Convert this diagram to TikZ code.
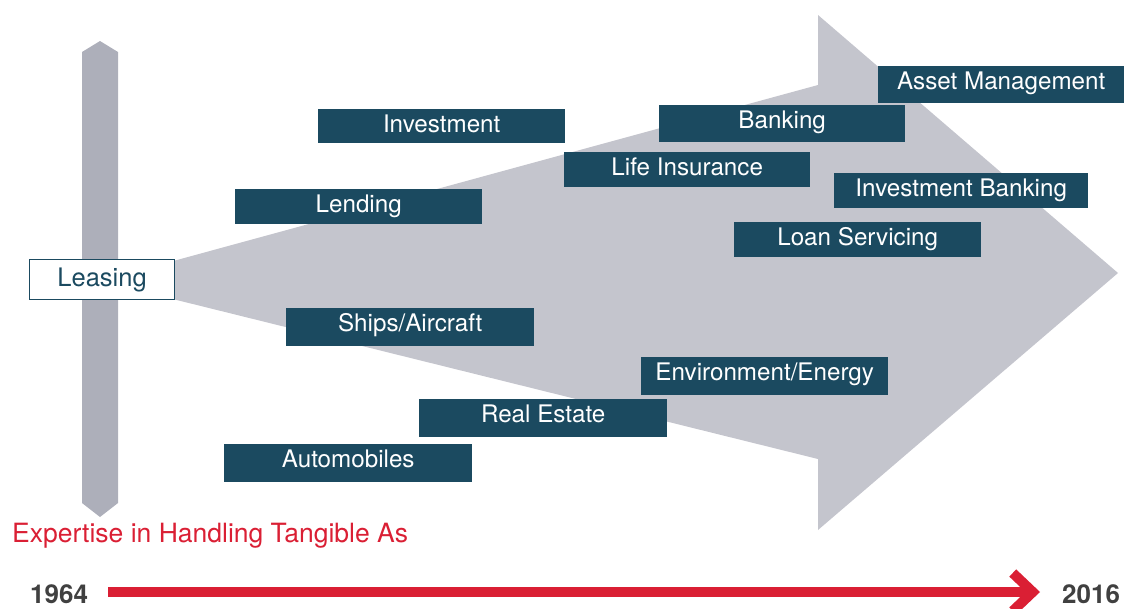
\documentclass[tikz,border=0pt]{standalone}
\usepackage{fontspec}
\setmainfont{TeX Gyre Heros}
\usetikzlibrary{arrows.meta}
\definecolor{teal}{HTML}{1B4A60}
\definecolor{bigarrow}{HTML}{C4C5CD}
\definecolor{bar}{HTML}{ADAFBA}
\definecolor{tlred}{HTML}{DA1F34}
\definecolor{yeargray}{HTML}{404040}
\tikzset{
  lbl/.style={fill=teal, text=white, inner sep=0pt, anchor=north west,
    minimum width=247pt, text height=23pt, text depth=13pt,
    font=\fontsize{24.2}{28}\selectfont},
  leasebox/.style={fill=white, draw=teal, line width=1.2pt, text=teal, inner sep=0pt,
    anchor=north west, minimum width=145pt, text height=27pt, text depth=13pt,
    font=\fontsize{25.5}{30}\selectfont},
  year/.style={text=yeargray, inner sep=0pt, anchor=base west,
    font=\fontsize{26}{30}\selectfont\bfseries},
  tline/.style={draw=tlred, line width=10pt,
    -{Straight Barb[length=20pt,width=38pt]}}
}
\begin{document}
\begin{tikzpicture}[x=1pt,y=-1pt]
\useasboundingbox (0,0) rectangle (1124,608);
% big arrow
\fill[bigarrow] (100,281) -- (818,85) -- (818,15) -- (1118,273) -- (818,530) -- (818,459) -- cycle;
% vertical bar
\fill[bar] (82,52) -- (100,41) -- (118,52) -- (118,503) -- (100,517) -- (82,503) -- cycle;
% labels
\node[leasebox] (leasing) at (29,259) {Leasing};
\node[lbl, text depth=11pt] (investment) at (318,109) {Investment};
\node[lbl, text depth=14pt, minimum width=246pt] (banking) at (659,105) {Banking};
\node[lbl, text depth=12pt, minimum width=246pt] (life) at (564,152) {Life Insurance};
\node[lbl, text depth=14pt, minimum width=246pt] (asset) at (878,66) {Asset Management};
\node[lbl, text depth=12pt, minimum width=254pt] (invbank) at (834,173) {Investment Banking};
\node[lbl, text depth=12pt] (loan) at (734,222) {Loan Servicing};
\node[lbl, text depth=12pt] (lending) at (235,189) {Lending};
\node[lbl, text depth=15pt, minimum width=248pt] (ships) at (286,308) {Ships/Aircraft};
\node[lbl, text depth=15pt] (env) at (641,357) {Environment/Energy};
\node[lbl, text depth=15pt, minimum width=248pt] (realestate) at (419,399) {Real Estate};
\node[lbl, text depth=15pt, minimum width=248pt] (auto) at (224,444) {Automobiles};
% caption
\node[text=tlred, inner sep=0pt, anchor=base west, font=\fontsize{26.5}{30}\selectfont] (expertise) at (12,542) {Expertise in Handling Tangible As};
% timeline
\node[year] (y1964) at (30,603) {1964};
\node[year] (y2016) at (1062,603) {2016};
\coordinate (tlS) at (108,592);
\coordinate (tlE) at (1040,592);
\draw[tline] (tlS) -- (tlE);
\end{tikzpicture}
\end{document}
